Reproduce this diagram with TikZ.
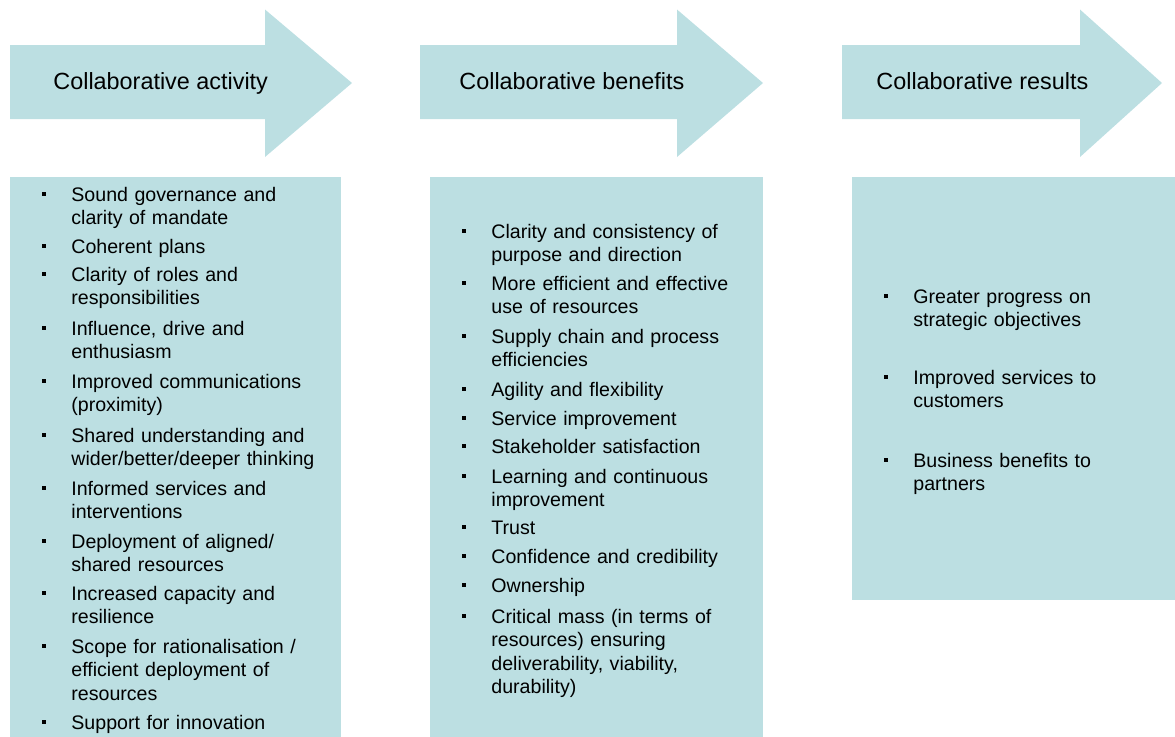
\documentclass[tikz,border=0pt]{standalone}
\usepackage{fontspec}
\setmainfont{Liberation Sans}

\definecolor{panel}{RGB}{188,223,226}
% small square bullet hung to the left of the first line
\newcommand{\bul}{\llap{\rule[2.6pt]{2pt}{2pt}\hspace{12.5pt}}}

\begin{document}
\begin{tikzpicture}[x=0.5pt, y=-0.5pt,
    heading/.style={anchor=base west, inner sep=0pt, font=\fontsize{11.7pt}{14pt}\selectfont},
    entry/.style={anchor=base west, inner sep=0pt, text width=150pt, align=left,
                  font=\fontsize{9.8pt}{11.8pt}\selectfont}]
                \useasboundingbox (0,0) rectangle (1175,736);
                \clip (0,0) rectangle (1175,736);

                % strelice
                \fill[panel] (10,45) -- (265,45) -- (265,9.5) -- (352,83) -- (265,157) -- (265,119) -- (10,119) -- cycle;
                \fill[panel] (420,45) -- (677,45) -- (677,9.5) -- (763,83) -- (677,157) -- (677,119) -- (420,119) -- cycle;
                \fill[panel] (842,45) -- (1080,45) -- (1080,9.5) -- (1162,83) -- (1080,157) -- (1080,119) -- (842,119) -- cycle;

                \node[heading] (act) at (53,89.5) {Collaborative activity};
                \node[heading] (ben) at (459,89.5) {Collaborative benefits};
                \node[heading] (res) at (876,89.5) {Collaborative results};

                % pravokutnici
                \fill[panel] (10,177) rectangle (341,740);
                \fill[panel] (430,177) rectangle (763,740);
                \fill[panel] (852,177) rectangle (1180,600);

                % activity
                \node[entry] (a1) at (71,201) {\bul Sound governance and\\clarity of mandate};
                \node[entry] (a2) at (71,253) {\bul Coherent plans};
                \node[entry] (a3) at (71,281) {\bul Clarity of roles and\\responsibilities};
                \node[entry] (a4) at (71,335) {\bul Influence, drive and\\enthusiasm};
                \node[entry] (a5) at (71,388) {\bul Improved communications\\(proximity)};
                \node[entry] (a6) at (71,442) {\bul Shared understanding and\\wider/better/deeper thinking};
                \node[entry] (a7) at (71,495) {\bul Informed services and\\interventions};
                \node[entry] (a8) at (71,548) {\bul Deployment of aligned/\\shared resources};
                \node[entry] (a9) at (71,600) {\bul Increased capacity and\\resilience};
                \node[entry] (a10) at (71,653) {\bul Scope for rationalisation /\\efficient deployment of\\resources};
                \node[entry] (a11) at (71,729) {\bul Support for innovation};

                % benefits
                \node[entry] (b1) at (491,238) {\bul Clarity and consistency of\\purpose and direction};
                \node[entry] (b2) at (491,290) {\bul More efficient and effective\\use of resources};
                \node[entry] (b3) at (491,343) {\bul Supply chain and process\\efficiencies};
                \node[entry] (b4) at (491,396) {\bul Agility and flexibility};
                \node[entry] (b5) at (491,425) {\bul Service improvement};
                \node[entry] (b6) at (491,453) {\bul Stakeholder satisfaction};
                \node[entry] (b7) at (491,483) {\bul Learning and continuous\\improvement};
                \node[entry] (b8) at (491,534) {\bul Trust};
                \node[entry] (b9) at (491,563) {\bul Confidence and credibility};
                \node[entry] (b10) at (491,592) {\bul Ownership};
                \node[entry] (b11) at (491,623) {\bul Critical mass (in terms of\\resources) ensuring\\deliverability, viability,\\durability)};

                % results
                \node[entry] (r1) at (913,303) {\bul Greater progress on\\strategic objectives};
                \node[entry] (r2) at (913,384) {\bul Improved services to\\customers};
                \node[entry] (r3) at (913,467) {\bul Business benefits to\\partners};
            \end{tikzpicture}
\end{document}
